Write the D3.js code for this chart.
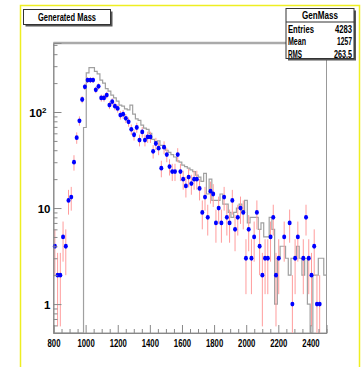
<!DOCTYPE html>
<html>
<head>
<meta charset="utf-8">
<script src="https://cdn.jsdelivr.net/npm/d3@7"></script>
<style>
  html, body { margin: 0; padding: 0; background: #fff; }
  svg { display: block; }
  text { font-family: "Liberation Sans Narrow", "Liberation Sans", Arial, sans-serif; font-weight: bold; fill: #000; }
</style>
</head>
<body>
<svg id="chart" width="364" height="367"></svg>
<script>
// histogram binning (GenMass: 100 bins from 800 to 2500)
const massLow = 800;
const massHigh = 2500;
const nBins = 100;

const xTickLabels = [800, 1000, 1200, 1400, 1600, 1800, 2000, 2200, 2400];
const yTickLabels = [1, 10, 100];

// blue points (counts per bin)
const dataCounts = [
  4, 2, 2, 5, 4, 12, 13, 30, 54, 81,
  135, 183, 215, 215, 215, 170, 185, 140, 140, 150,
  118, 128, 115, 109, 93, 95, 86, 79, 66, 58,
  69, 51, 62, 51, 55, 55, 39, 47, 42, 26,
  43, 36, 27, 24, 24, 36, 24, 20, 17, 21,
  18, 20, 20, 16, 9, 13, 8, 15, 14, 7,
  10, 7, 13, 8, 7, 12, 6, 8, 10, 9,
  3, 6, 3, 5, 9, 4, 2, 3, 3, 5,
  8, 2, 3, 0, 5, 0, 7, 1, 3, 5,
  0, 3, 8, 3, 2, 4, 1, 1, 0, 0
];

// gray histogram (generated mass)
const genCounts = [
  0, 0, 0, 0, 0, 0, 0, 0, 0, 0,
  0, 69, 255, 290, 290, 265, 250, 215, 200, 175,
  165, 150, 140, 130, 118, 115, 108, 105, 118, 95,
  85, 82, 73, 68, 66, 60, 52, 49, 50, 45,
  42, 40, 38, 36, 34, 31, 30, 28, 27, 26,
  25, 24, 22, 21, 19, 23, 14, 20, 12, 12,
  12, 14, 11, 11, 9, 8, 9, 10, 11, 9,
  12, 7, 8, 8, 8, 6, 7, 5, 5, 8,
  6, 1, 3, 4, 4, 3, 2, 3, 3, 4,
  3, 2, 3, 1, 0, 2, 2, 3, 3, 2
];

const statTitle = "GenMass";
const statNames = ["Entries", "Mean", "RMS"];
const statValues = ["4283", "1257", "263.5"];
const histTitle = "Generated Mass";

const svg = d3.select("#chart");

// outer yellow pad border
svg.append("rect")
  .attr("x", 20.5).attr("y", 5.5)
  .attr("width", 339).attr("height", 370)
  .attr("fill", "none")
  .attr("stroke", "#eeee22")
  .attr("stroke-width", 1.5);

const frame = { left: 53.5, right: 326.5, top: 43, bottom: 333 };

const binWidth = (massHigh - massLow) / nBins;
const binEdges = d3.range(nBins + 1).map(i => massLow + i * binWidth);

const x = d3.scaleLinear()
  .domain([massLow, massHigh])
  .range([frame.left, frame.right]);

const y = d3.scaleLog()
  .domain([0.5, 523])
  .range([frame.bottom, frame.top])
  .clamp(true);

// frame
svg.append("rect")
  .attr("x", frame.left).attr("y", frame.top)
  .attr("width", frame.right - frame.left)
  .attr("height", frame.bottom - frame.top)
  .attr("fill", "#fff")
  .attr("stroke", "#999")
  .attr("stroke-width", 1);
svg.append("line")
  .attr("x1", frame.left).attr("x2", frame.right)
  .attr("y1", frame.top).attr("y2", frame.top)
  .attr("stroke", "#aaa")
  .attr("stroke-width", 2.5);

// gray step histogram
const stepPoints = [[x(binEdges[0]), frame.bottom]];
genCounts.forEach((v, i) => {
  const yy = v > 0 ? y(v) : frame.bottom;
  stepPoints.push([x(binEdges[i]), yy]);
  stepPoints.push([x(binEdges[i + 1]), yy]);
});
svg.append("path")
  .attr("d", d3.line()(stepPoints))
  .attr("fill", "none")
  .attr("stroke", "#a0a0a0")
  .attr("stroke-width", 1.2);

// points with error bars
const pts = dataCounts
  .map((v, i) => ({ m: (binEdges[i] + binEdges[i + 1]) / 2, v: v }))
  .filter(d => d.v > 0);

svg.append("g").selectAll("line")
  .data(pts)
  .join("line")
  .attr("x1", d => x(d.m)).attr("x2", d => x(d.m))
  .attr("y1", d => y(d.v + Math.sqrt(d.v)))
  .attr("y2", d => y(Math.max(d.v - Math.sqrt(d.v), 0.01)))
  .attr("stroke", "#ff9c9c")
  .attr("stroke-width", 1);

svg.append("g").selectAll("ellipse")
  .data(pts)
  .join("ellipse")
  .attr("cx", d => x(d.m))
  .attr("cy", d => y(d.v))
  .attr("rx", 2)
  .attr("ry", 2.4)
  .attr("fill", "#0000ff");

// x axis
const xMinor = d3.range(massLow, massHigh + 1, 50).filter(v => v % 200 !== 0);
svg.append("g")
  .attr("transform", `translate(0,${frame.bottom})`)
  .call(d3.axisBottom(x).tickValues(xMinor).tickSize(-4).tickFormat(""))
  .call(g => g.select(".domain").remove())
  .call(g => g.selectAll("line").attr("stroke", "#888"));

const xAxis = svg.append("g")
  .attr("transform", `translate(0,${frame.bottom})`)
  .call(d3.axisBottom(x).tickValues(xTickLabels).tickSize(-8).tickPadding(4).tickFormat(d3.format("d")));
xAxis.select(".domain").attr("stroke", "#888");
xAxis.selectAll("line").attr("stroke", "#888");
xAxis.selectAll("text")
  .attr("font-size", 11.5)
  .attr("dy", "0.85em")
  .attr("textLength", d => String(d).length * 4.3)
  .attr("lengthAdjust", "spacingAndGlyphs");

// y axis
const yMinor = [];
[0.1, 1, 10, 100].forEach(dec => {
  for (let k = 2; k <= 9; k++) {
    const v = dec * k;
    if (v >= 0.5 && v <= 523) yMinor.push(v);
  }
});
svg.append("g")
  .attr("transform", `translate(${frame.left},0)`)
  .call(d3.axisLeft(y).tickValues(yMinor).tickSize(-4).tickFormat(""))
  .call(g => g.select(".domain").remove())
  .call(g => g.selectAll("line").attr("stroke", "#888"));

const yAxis = svg.append("g")
  .attr("transform", `translate(${frame.left},0)`)
  .call(d3.axisLeft(y).tickValues(yTickLabels).tickSize(-8).tickPadding(4).tickFormat(""));
yAxis.select(".domain").attr("stroke", "#888");
yAxis.selectAll("line").attr("stroke", "#888");
yAxis.selectAll(".tick text").each(function (d) {
  const t = d3.select(this).attr("font-size", 11.5).attr("dy", "0.36em");
  if (d === 100) {
    t.attr("x", -7);
    t.append("tspan").text("10");
    t.append("tspan").attr("font-size", 8).attr("dy", "-0.5em").text("2");
  } else {
    t.attr("x", -3).text(String(d));
  }
});

// boxes with a dark drop shadow
function boxWithShadow(bx, by, bw, bh) {
  svg.append("rect")
    .attr("x", bx + 2).attr("y", by + 2)
    .attr("width", bw).attr("height", bh)
    .attr("fill", "#555");
  svg.append("rect")
    .attr("x", bx).attr("y", by)
    .attr("width", bw).attr("height", bh)
    .attr("fill", "#fff")
    .attr("stroke", "#333")
    .attr("stroke-width", 1);
}

boxWithShadow(23.5, 9.5, 87, 15);
svg.append("text")
  .attr("x", 67).attr("y", 21)
  .attr("text-anchor", "middle")
  .attr("font-size", 10)
  .attr("textLength", 58)
  .attr("lengthAdjust", "spacingAndGlyphs")
  .text(histTitle);

// stats box
const sb = { x: 286, y: 8.5, w: 68, h: 50 };
boxWithShadow(sb.x, sb.y, sb.w, sb.h);
svg.append("line")
  .attr("x1", sb.x).attr("x2", sb.x + sb.w)
  .attr("y1", 22).attr("y2", 22)
  .attr("stroke", "#333");
svg.append("text")
  .attr("x", sb.x + sb.w / 2).attr("y", 19)
  .attr("text-anchor", "middle")
  .attr("font-size", 10.5)
  .attr("textLength", 36)
  .attr("lengthAdjust", "spacingAndGlyphs")
  .text(statTitle);

const nameWidths = [26, 18, 14];
const valueWidths = [17, 15, 18];
statNames.forEach((name, i) => {
  const by = 32.5 + i * 12.5;
  svg.append("text")
    .attr("x", sb.x + 2).attr("y", by)
    .attr("font-size", 10.5)
    .attr("textLength", nameWidths[i])
    .attr("lengthAdjust", "spacingAndGlyphs")
    .text(name);
  svg.append("text")
    .attr("x", sb.x + sb.w - 2).attr("y", by)
    .attr("text-anchor", "end")
    .attr("font-size", 10.5)
    .attr("textLength", valueWidths[i])
    .attr("lengthAdjust", "spacingAndGlyphs")
    .text(statValues[i]);
});
</script>
</body>
</html>
